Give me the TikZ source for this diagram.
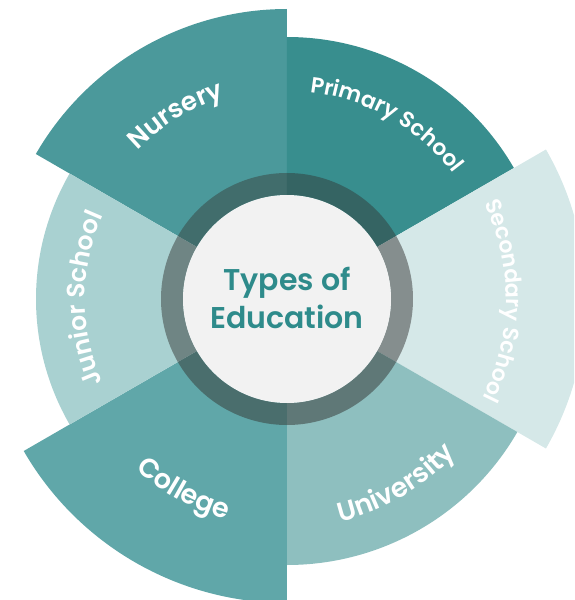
\documentclass[tikz,border=0pt]{standalone}
\usepackage{fontspec}
\setmainfont{Poppins}[BoldFont={Poppins SemiBold}]
\usetikzlibrary{decorations.text}
\definecolor{cNurs}{HTML}{4B999B}
\definecolor{cPrim}{HTML}{388E8E}
\definecolor{cSec}{HTML}{D5E8E8}
\definecolor{cUni}{HTML}{8EBFBF}
\definecolor{cCol}{HTML}{60A7A9}
\definecolor{cJun}{HTML}{A9D1D1}
\definecolor{rNurs}{HTML}{416D6C}
\definecolor{rPrim}{HTML}{356463}
\definecolor{rSec}{HTML}{858E8E}
\definecolor{rUni}{HTML}{5F7877}
\definecolor{rCol}{HTML}{4A6E6D}
\definecolor{rJun}{HTML}{6F8584}
\definecolor{cInner}{HTML}{F2F2F2}
\definecolor{cTitle}{HTML}{2E8B8B}
\newcommand\lblfont[1]{\color{white}\fontsize{#1}{#1}\selectfont\bfseries}
\tikzset{
  lbl/.style 2 args={decorate, decoration={text along path, text align=center, text={|\lblfont{#1}|#2}}},
}
\begin{document}
\begin{tikzpicture}[x=1pt,y=1pt]
\useasboundingbox (-287,-301) rectangle (287,299);
\clip (-287,-301) rectangle (287,299);
% sectors
\fill[cNurs] (0,0) -- (150:290) arc[start angle=150,end angle=90,radius=290] -- cycle;
\fill[cPrim] (0,0) -- (90:262) arc[start angle=90,end angle=30,radius=262] -- cycle;
\fill[cSec]  (0,0) -- (30:299) arc[start angle=30,end angle=-30,radius=299] -- cycle;
\fill[cUni]  (0,0) -- (-30:266) arc[start angle=-30,end angle=-90,radius=266] -- cycle;
\fill[cCol]  (0,0) -- (-90:304) arc[start angle=-90,end angle=-150,radius=304] -- cycle;
\fill[cJun]  (0,0) -- (210:251) arc[start angle=210,end angle=150,radius=251] -- cycle;
% ring segments
\foreach \a/\c in {90/rNurs,30/rPrim,-30/rSec,-90/rUni,-150/rCol,150/rJun}{
  \fill[\c] (\a:104) arc[start angle=\a,end angle=\a+60,radius=104]
     -- (\a+60:126) arc[start angle=\a+60,end angle=\a,radius=126] -- cycle;
}
% inner circle
\fill[cInner] (0,0) circle[radius=104];
\node[text=cTitle, font=\fontsize{30}{38}\selectfont\bfseries, align=center] (title) at (0,1) {Types of\\Education};
% labels
\path[lbl={26}{Nursery}] (166.2:211) arc[start angle=166.2,end angle=76.2,radius=211];
\path[lbl={22}{Primary School}] (105.4:208) arc[start angle=105.4,end angle=15.4,radius=208];
\path[lbl={22}{Secondary School}] (44.5:219) arc[start angle=44.5,end angle=-45.5,radius=219];
\path[lbl={25}{Junior School}] (225:202) arc[start angle=225,end angle=135,radius=202];
\path[lbl={27}{University}] (-104.5:229) arc[start angle=-104.5,end angle=-14.5,radius=229];
\path[lbl={27}{College}] (-163.5:228) arc[start angle=-163.5,end angle=-73.5,radius=228];
\end{tikzpicture}
\end{document}
